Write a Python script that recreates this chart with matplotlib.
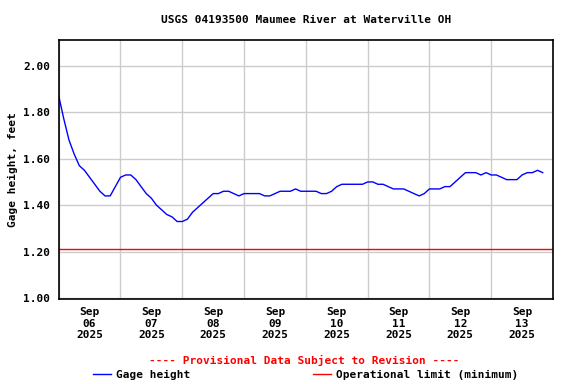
import numpy as np
import pandas as pd
import matplotlib
matplotlib.use("Agg")
import matplotlib.pyplot as plt
import matplotlib.dates as mdates
from matplotlib.lines import Line2D

# gage height, every 2 hours from Sep 06 2025 00:00
gage_height = [
    1.87, 1.77, 1.68, 1.62, 1.57, 1.55, 1.52, 1.49, 1.46, 1.44, 1.44, 1.48,
    1.52, 1.53, 1.53, 1.51, 1.48, 1.45, 1.43, 1.40, 1.38, 1.36, 1.35, 1.33,
    1.33, 1.34, 1.37, 1.39, 1.41, 1.43, 1.45, 1.45, 1.46, 1.46, 1.45, 1.44,
    1.45, 1.45, 1.45, 1.45, 1.44, 1.44, 1.45, 1.46, 1.46, 1.46, 1.47, 1.46,
    1.46, 1.46, 1.46, 1.45, 1.45, 1.46, 1.48, 1.49, 1.49, 1.49, 1.49, 1.49,
    1.50, 1.50, 1.49, 1.49, 1.48, 1.47, 1.47, 1.47, 1.46, 1.45, 1.44, 1.45,
    1.47, 1.47, 1.47, 1.48, 1.48, 1.50, 1.52, 1.54, 1.54, 1.54, 1.53, 1.54,
    1.53, 1.53, 1.52, 1.51, 1.51, 1.51, 1.53, 1.54, 1.54, 1.55, 1.54,
]
times = pd.date_range("2025-09-06 00:00", periods=len(gage_height), freq="2h")
op_limit = 1.21
y_ticks = [1.0, 1.2, 1.4, 1.6, 1.8, 2.0]

plt.rcParams["font.family"] = "DejaVu Sans Mono"
plt.rcParams["font.weight"] = "bold"
plt.rcParams["font.size"] = 8

fig = plt.figure(figsize=(5.76, 3.84), dpi=100)
ax = fig.add_axes([58.7 / 576, 1 - 299 / 384, (553 - 58.7) / 576, (299 - 40) / 384])

ax.plot(times, gage_height, color="#0000ff", lw=1)
ax.axhline(op_limit, color="#ff0000", lw=1)

ax.set_xlim(pd.Timestamp("2025-09-06"), pd.Timestamp("2025-09-14"))
ax.set_ylim(0.997, 2.11)
ax.set_yticks(y_ticks)
ax.yaxis.set_major_formatter(plt.FormatStrFormatter("%.2f"))

ax.xaxis.set_major_locator(mdates.HourLocator(byhour=[12]))
ax.xaxis.set_major_formatter(mdates.DateFormatter("%b\n%d\n%Y"))
ax.xaxis.set_minor_locator(mdates.DayLocator())
ax.grid(True, which="minor", axis="x", color="#cccccc", lw=1)
ax.grid(True, which="major", axis="y", color="#cccccc", lw=1)
ax.set_axisbelow(True)
ax.tick_params(which="both", length=0, pad=6)
for lab in ax.get_xticklabels():
    lab.set_linespacing(1.15)
for s in ax.spines.values():
    s.set_linewidth(1.2)

ax.set_ylabel("Gage height, feet", fontsize=8, fontweight="bold", labelpad=4)
fig.text(305.9 / 576, 1 - 20 / 384, "USGS 04193500 Maumee River at Waterville OH",
         ha="center", va="center", fontsize=8, fontweight="bold")
fig.text(304.5 / 576, 1 - 360.6 / 384, "---- Provisional Data Subject to Revision ----",
         ha="center", va="center", fontsize=8, fontweight="bold", color="#ff0000")

handles = [Line2D([], [], color="#0000ff", lw=1), Line2D([], [], color="#ff0000", lw=1)]
fig.legend(handles, ["Gage height", "Operational limit (minimum)"], ncol=2,
           loc="center left", bbox_to_anchor=(93 / 576, 1 - 374.6 / 384),
           frameon=False, borderpad=0, borderaxespad=0, handlelength=1.6,
           handletextpad=0.45, columnspacing=11.1, prop={"weight": "bold", "size": 8})

fig.savefig("out.png", dpi=100)
